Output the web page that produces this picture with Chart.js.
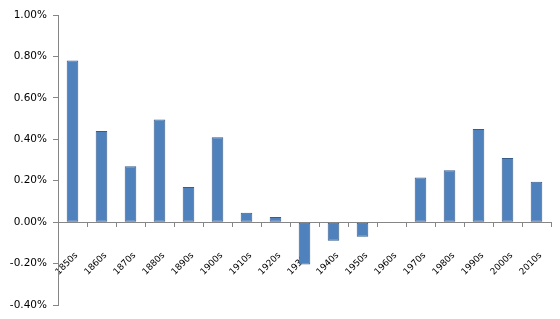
<!DOCTYPE html>
<html>
<head>
<meta charset="utf-8">
<script src="https://cdn.jsdelivr.net/npm/chart.js@4/dist/chart.umd.min.js"></script>
<style>
  html, body { margin: 0; padding: 0; background: #fff; }
  #wrap { width: 560px; height: 319px; }
</style>
</head>
<body>
<div id="wrap"><canvas id="myChart"></canvas></div>
<script>
// decades and their values (in percent)
let decades = ['1850s','1860s','1870s','1880s','1890s','1900s','1910s','1920s','1930s',
               '1940s','1950s','1960s','1970s','1980s','1990s','2000s','2010s'];
let values = [0.78, 0.44, 0.27, 0.495, 0.17, 0.41, 0.045, 0.025, -0.205,
              -0.09, -0.07, 0, 0.215, 0.25, 0.45, 0.31, 0.195];
let yTicks = [-0.4, -0.2, 0, 0.2, 0.4, 0.6, 0.8, 1.0];

let axisColor = '#868686';

let cur_chart = new Chart(
  document.getElementById('myChart'),
  {
    type: 'bar',
    data: {
      labels: decades,
      datasets: [
        {
          data: values,
          backgroundColor: '#4F81BD',
          borderColor: '#385D8A',
          borderWidth: 1,
          borderSkipped: false,
          barPercentage: 0.4,
          categoryPercentage: 1.0,
          xAxisID: 'x'
        }
      ]
    },
    options: {
      responsive: true,
      maintainAspectRatio: false,
      animation: false,
      layout: { padding: { top: 15, right: 9, bottom: 14, left: 0 } },
      plugins: {
        legend: { display: false },
        tooltip: { enabled: false }
      },
      scales: {
        // axis line + tick marks at zero
        x: {
          position: { y: 0 },
          afterFit: function(scale) { scale.height = 0; },
          grid: { display: true, offset: true, drawOnChartArea: false, tickLength: 4, color: axisColor },
          border: { color: axisColor },
          ticks: { display: false }
        },
        // labels only, pushed a bit further below the zero line, drawn over the bars
        xLabels: {
          type: 'category',
          labels: decades,
          position: { y: 0 },
          z: 1,
          afterFit: function(scale) { scale.height = 0; },
          grid: { display: true, offset: true, drawOnChartArea: false, tickLength: 20, tickColor: 'rgba(0,0,0,0)', color: 'rgba(0,0,0,0)' },
          border: { display: false },
          ticks: {
            maxRotation: 45, minRotation: 45, autoSkip: false, labelOffset: 4, padding: 8,
            color: '#000', font: { family: 'DejaVu Sans', size: 9 }
          }
        },
        y: {
          min: -0.4,
          max: 1.0,
          afterFit: function(scale) { scale.width = 58; },
          afterBuildTicks: function(scale) { scale.ticks = yTicks.map(v => ({ value: v })); },
          grid: { display: true, drawOnChartArea: false, tickLength: 5, color: axisColor },
          border: { color: axisColor },
          ticks: {
            padding: 6,
            color: '#000',
            font: { family: 'DejaVu Sans', size: 10.5 },
            callback: function(v) { return v.toFixed(2) + '%'; }
          }
        }
      }
    }
  }
);
</script>
</body>
</html>
